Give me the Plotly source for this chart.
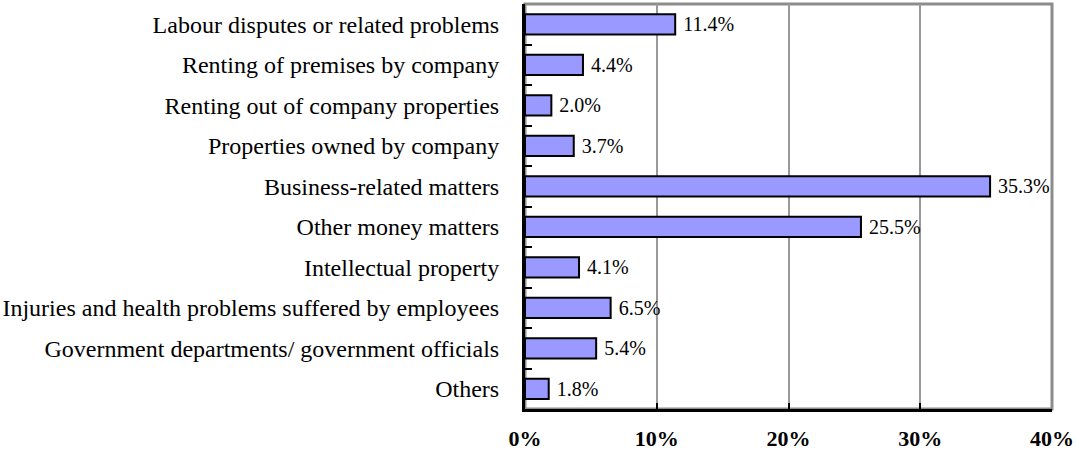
import plotly.graph_objects as go

categories = [
    "Labour disputes or related problems",
    "Renting of premises by company",
    "Renting out of company properties",
    "Properties owned by company",
    "Business-related matters",
    "Other money matters",
    "Intellectual property",
    "Injuries and health problems suffered by employees",
    "Government departments/ government officials",
    "Others",
]
values = [11.4, 4.4, 2.0, 3.7, 35.3, 25.5, 4.1, 6.5, 5.4, 1.8]
labels = [f" {v:.1f}%" for v in values]
tick_vals = [0, 10, 20, 30, 40]
tick_text = ["0%", "10%", "20%", "30%", "40%"]

FONT = "Liberation Serif"

fig = go.Figure(go.Bar(
    x=values, y=categories, orientation="h",
    marker=dict(color="#9999FF", line=dict(color="black", width=2)),
    text=labels, textposition="outside", cliponaxis=False, constraintext="none",
    textfont=dict(family=FONT, size=20, color="black"),
    width=0.5,
))

fig.update_layout(
    width=1078, height=457,
    margin=dict(l=525, r=26, t=4, b=48, autoexpand=False),
    plot_bgcolor="white", paper_bgcolor="white",
    showlegend=False,
    font=dict(family=FONT, size=20, color="black"),
    shapes=[dict(type="rect", xref="paper", yref="paper", x0=0, y0=0, x1=1, y1=1,
                 line=dict(color="#8c8c8c", width=3), layer="below")],
)
fig.update_xaxes(
    range=[0, 40], tickvals=tick_vals, ticktext=tick_text,
    showgrid=True, gridcolor="#999999", gridwidth=2,
    showline=True, linecolor="black", linewidth=3,
    ticks="inside", ticklen=6, tickwidth=2, tickcolor="black",
    tickfont=dict(family=FONT, size=22, color="black", weight="bold"),
    ticklabelstandoff=8, zeroline=False, automargin=False,
)
fig.update_yaxes(
    autorange="reversed", showgrid=False,
    showline=True, linecolor="black", linewidth=3,
    ticks="inside", tickson="boundaries", ticklen=7, tickwidth=2, tickcolor="black",
    tickfont=dict(family=FONT, size=24, color="black"),
    ticklabelstandoff=18, automargin=False,
)

fig.write_html("out.html", config={"displayModeBar": False},
               post_script="document.body.style.margin='0';")
